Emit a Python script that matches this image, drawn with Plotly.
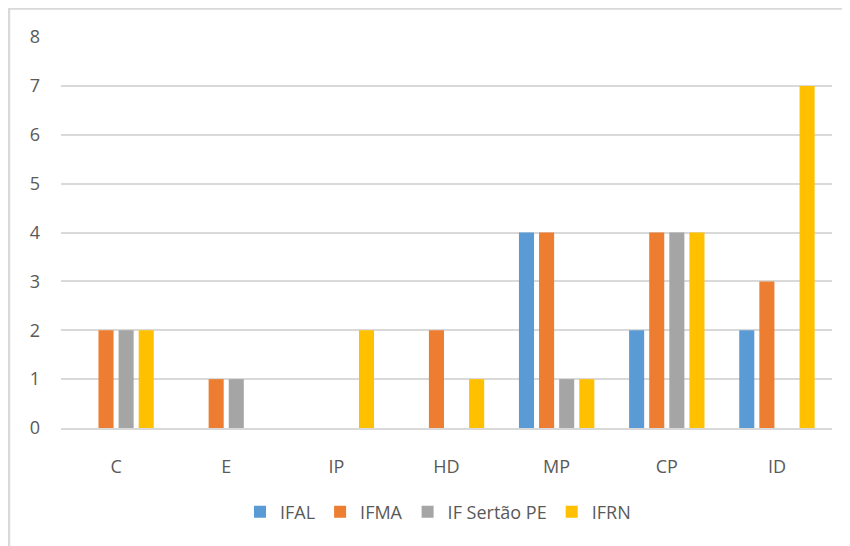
import plotly.graph_objects as go

categories = ["C", "E", "IP", "HD", "MP", "CP", "ID"]
series_names = ["IFAL", "IFMA", "IF Sertão PE", "IFRN"]
ifal = [0, 0, 0, 0, 4, 2, 2]
ifma = [2, 1, 0, 2, 4, 4, 3]
if_sertao = [2, 1, 0, 0, 1, 4, 0]
ifrn = [2, 0, 2, 1, 1, 4, 7]
colors = ["#5B9BD5", "#ED7D31", "#A5A5A5", "#FFC000"]

# page has an 8px body margin; figure coordinates are page coords minus 8
OFF = 8
W, H = 850 - OFF, 546 - OFF
L, R, T, B = 61 - OFF, 18, 37 - OFF, 118
pw, ph = W - L - R, H - T - B

def px(x):
    return (x - OFF - L) / pw

def py(y):
    return (H - B - (y - OFF)) / ph

fig = go.Figure()
for name, vals, c in zip(series_names, [ifal, ifma, if_sertao, ifrn], colors):
    fig.add_trace(go.Bar(name=name, x=categories, y=vals,
                         marker=dict(color=c, line=dict(width=0))))

fam = "Open Sans, Liberation Sans, sans-serif"
fs = 18
fig.update_layout(
    width=W, height=H,
    margin=dict(l=L, r=R, t=T, b=B),
    paper_bgcolor="white", plot_bgcolor="white",
    barmode="group", bargap=0.27, bargroupgap=0.25,
    font=dict(family=fam, size=fs, color="#595959"),
    showlegend=True,
    legend=dict(orientation="h", x=px(438), xanchor="center", y=py(512), yanchor="middle",
                font=dict(family=fam, size=fs, color="#595959"),
                itemwidth=30, traceorder="normal"),
    xaxis=dict(showgrid=False, showline=True, linecolor="#D9D9D9", linewidth=1.5,
               ticks="", ticklabelstandoff=22, tickfont=dict(size=fs, color="#595959")),
    yaxis=dict(range=[0, 8], dtick=1, showgrid=True, gridcolor="#D9D9D9", gridwidth=1.5,
               zeroline=False, showline=False, ticks="", ticklabelstandoff=20,
               tickfont=dict(size=fs, color="#595959")),
    shapes=[
        dict(type="line", xref="paper", yref="paper", x0=px(8), x1=px(850), y0=py(8.5), y1=py(8.5),
             line=dict(color="#D9D9D9", width=2.5)),
        dict(type="line", xref="paper", yref="paper", x0=px(9), x1=px(9), y0=py(8), y1=py(546),
             line=dict(color="#D9D9D9", width=2.5)),
    ],
)

fig.write_html("out.html")
